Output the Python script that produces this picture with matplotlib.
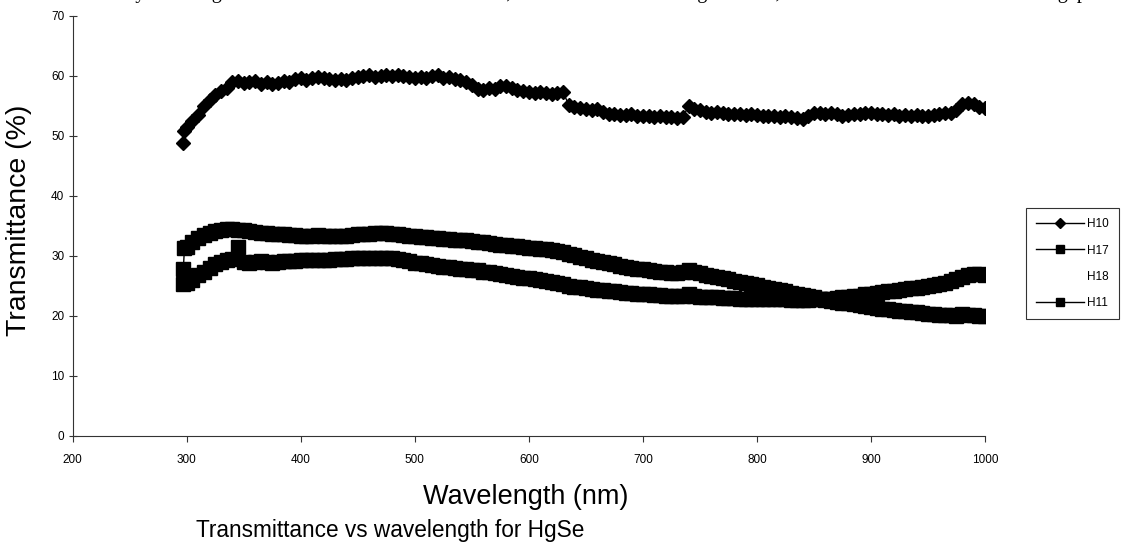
import numpy as np
import matplotlib
matplotlib.use("Agg")
import matplotlib.pyplot as plt

plt.rcParams['font.family'] = ['Liberation Sans', 'DejaVu Sans']

# ---------------- data ----------------
wavelength = np.arange(300, 1001, 5)

h10_start_wl = [297, 298]
h10_start = [48.8, 50.8]
h10 = [51.5, 52.5, 53.5, 55.0, 56.0, 56.8, 57.5, 58.0, 59.0, 59.2,
       58.8, 59.0, 59.2, 58.7, 59.0, 58.6, 58.8, 59.2, 59.0, 59.5,
       59.6, 59.4, 59.7, 59.8, 59.6, 59.5, 59.3, 59.5, 59.3, 59.6,
       59.8, 60.0, 60.1, 59.8, 60.0, 60.1, 60.0, 60.1, 60.0, 59.9,
       59.7, 59.8, 59.7, 60.0, 60.1, 59.7, 59.8, 59.5, 59.4, 59.0,
       58.5, 57.9, 57.7, 58.0, 57.8, 58.3, 58.4, 58.0, 57.7, 57.5,
       57.4, 57.2, 57.3, 57.1, 57.0, 57.1, 57.3, 55.2, 54.8, 54.6,
       54.5, 54.3, 54.5, 54.0, 53.7, 53.6, 53.5, 53.5, 53.6, 53.4,
       53.3, 53.4, 53.2, 53.3, 53.2, 53.1, 53.0, 53.1, 55.0, 54.5,
       54.3, 54.0, 53.9, 54.0, 53.8, 53.7, 53.6, 53.7, 53.5, 53.6,
       53.5, 53.4, 53.3, 53.4, 53.2, 53.3, 53.1, 53.0, 52.9, 53.4,
       53.8, 53.9, 53.7, 53.8, 53.6, 53.3, 53.5, 53.7, 53.6, 53.8,
       53.9, 53.6, 53.7, 53.5, 53.6, 53.4, 53.5, 53.3, 53.5, 53.4,
       53.3, 53.5, 53.6, 53.8, 53.9, 54.3, 55.3, 55.5, 55.3, 54.9,
       54.6]

h17_start_wl = [297, 298]
h17_start = [27.8, 31.3]
h17 = [31.5, 32.3, 33.0, 33.5, 33.9, 34.2, 34.4, 34.5, 34.5, 34.4,
       34.3, 34.2, 34.0, 33.9, 33.8, 33.7, 33.6, 33.6, 33.5, 33.5,
       33.4, 33.4, 33.4, 33.5, 33.4, 33.4, 33.3, 33.4, 33.4, 33.5,
       33.6, 33.7, 33.7, 33.8, 33.8, 33.8, 33.7, 33.6, 33.5, 33.4,
       33.3, 33.2, 33.1, 33.0, 33.0, 32.9, 32.8, 32.7, 32.7, 32.6,
       32.5, 32.4, 32.3, 32.1, 32.0, 31.9, 31.8, 31.7, 31.6, 31.5,
       31.4, 31.3, 31.2, 31.1, 31.0, 30.9, 30.7, 30.4, 30.1, 29.9,
       29.6, 29.4, 29.2, 29.0, 28.8, 28.6, 28.4, 28.2, 28.0, 27.9,
       27.8, 27.6, 27.5, 27.4, 27.3, 27.2, 27.1, 27.3, 27.6, 27.4,
       27.1, 26.9, 26.7, 26.5, 26.3, 26.1, 25.9, 25.7, 25.5, 25.3,
       25.1, 24.9, 24.7, 24.5, 24.3, 24.1, 23.9, 23.7, 23.5, 23.3,
       23.1, 22.9, 22.7, 22.5, 22.4, 22.2, 22.1, 22.0, 21.8, 21.6,
       21.5, 21.3, 21.2, 21.1, 21.0, 20.9, 20.8, 20.7, 20.6, 20.5,
       20.4, 20.3, 20.2, 20.2, 20.1, 20.0, 20.3, 20.2, 20.1, 20.0,
       20.0]

h11_start_wl = [297]
h11_start = [25.3]
h11 = [25.5, 26.0, 26.8, 27.4, 28.0, 28.6, 29.0, 29.3, 29.5, 31.5,
       29.0, 28.8, 29.0, 29.1, 29.0, 28.9, 29.0, 29.2, 29.1, 29.2,
       29.3, 29.3, 29.4, 29.4, 29.4, 29.4, 29.5, 29.5, 29.5, 29.6,
       29.6, 29.7, 29.7, 29.7, 29.7, 29.7, 29.6, 29.5, 29.3, 29.1,
       28.9, 28.8, 28.6, 28.5, 28.4, 28.2, 28.1, 28.0, 27.9, 27.8,
       27.7, 27.6, 27.4, 27.3, 27.2, 27.0, 26.9, 26.7, 26.5, 26.4,
       26.3, 26.1, 26.0, 25.9, 25.7, 25.5, 25.3, 25.0, 24.9, 24.8,
       24.6, 24.5, 24.4, 24.3, 24.2, 24.1, 24.0, 23.9, 23.8, 23.7,
       23.7, 23.6, 23.5, 23.5, 23.4, 23.4, 23.3, 23.3, 23.6, 23.3,
       23.2, 23.2, 23.1, 23.1, 23.0, 23.0, 23.0, 22.9, 22.9, 22.9,
       22.9, 22.9, 22.8, 22.8, 22.8, 22.8, 22.7, 22.7, 22.7, 22.7,
       22.8, 22.8, 22.9, 22.9, 23.0, 23.1, 23.2, 23.3, 23.4, 23.6,
       23.7, 23.8, 24.0, 24.1, 24.2, 24.4, 24.5, 24.6, 24.7, 24.9,
       25.0, 25.1, 25.3, 25.5, 25.8, 26.1, 26.5, 26.8, 27.0, 27.0,
       26.9]

series_labels = ["H10", "H17", "H18", "H11"]
x_ticks = [200, 300, 400, 500, 600, 700, 800, 900, 1000]
y_ticks = [0, 10, 20, 30, 40, 50, 60, 70]

top_text = ("ce decreased by more Hg content as seen in the XRD results, and an increase "
            "in the grain size, and also the decrease in the band gap")

# ---------------- figure ----------------
W, H = 1121, 554
fig = plt.figure(figsize=(W / 100, H / 100), dpi=100)
ax = fig.add_axes([72.7 / W, (H - 436) / H, (985 - 72.7) / W, (436 - 16) / H])

x10 = list(h10_start_wl) + list(wavelength)
y10 = list(h10_start) + list(h10)
x17 = list(h17_start_wl) + list(wavelength)
y17 = list(h17_start) + list(h17)
x11 = list(h11_start_wl) + list(wavelength)
y11 = list(h11_start) + list(h11)

l10, = ax.plot(x10, y10, color='black', lw=1, marker='D', markersize=7.3,
               markerfacecolor='black', markeredgecolor='black', label=series_labels[0])
l17, = ax.plot(x17, y17, color='black', lw=1, marker='s', markersize=9.5,
               markerfacecolor='black', markeredgecolor='black', label=series_labels[1])
l18, = ax.plot([], [], linestyle='none', marker='none', label=series_labels[2])
l11, = ax.plot(x11, y11, color='black', lw=1, marker='s', markersize=9.5,
               markerfacecolor='black', markeredgecolor='black', label=series_labels[3])

ax.set_xlim(200, 1000)
ax.set_ylim(0, 70)
ax.set_xticks(x_ticks)
ax.set_yticks(y_ticks)
for s in ['top', 'right']:
    ax.spines[s].set_visible(False)
for s in ['left', 'bottom']:
    ax.spines[s].set_linewidth(0.8)
    ax.spines[s].set_color('#333333')
ax.tick_params(axis='x', direction='out', length=4, width=0.8, labelsize=8.5, pad=9, color='#333333')
ax.tick_params(axis='y', direction='inout', length=6, width=0.8, labelsize=8.5, pad=3, color='#333333')

ax.set_ylabel("Transmittance (%)", fontsize=20.5)
ax.yaxis.set_label_coords(-0.045, 0.514)
fig.text(526 / W, 1 - 497 / H, "Wavelength (nm)", fontsize=19.5, ha='center', va='center')
fig.text(390 / W, 1 - 531 / H, "Transmittance vs wavelength for HgSe", fontsize=16.3,
         ha='center', va='center')

fig.text(17 / W, 1 - (-2) / H, top_text, fontsize=14.55, family='Liberation Serif',
         ha='left', va='baseline')

leg = fig.legend(handles=[l10, l17, l18, l11], loc='lower right',
                 bbox_to_anchor=(1119 / W, 1 - 319 / H), frameon=True, fancybox=False,
                 fontsize=8.5, handlelength=4.0, handletextpad=0.3, labelspacing=1.2,
                 borderpad=0.85, markerscale=0.65, borderaxespad=0)
leg.get_frame().set_edgecolor('black')
leg.get_frame().set_linewidth(0.8)

fig.savefig("out.png", dpi=100)
